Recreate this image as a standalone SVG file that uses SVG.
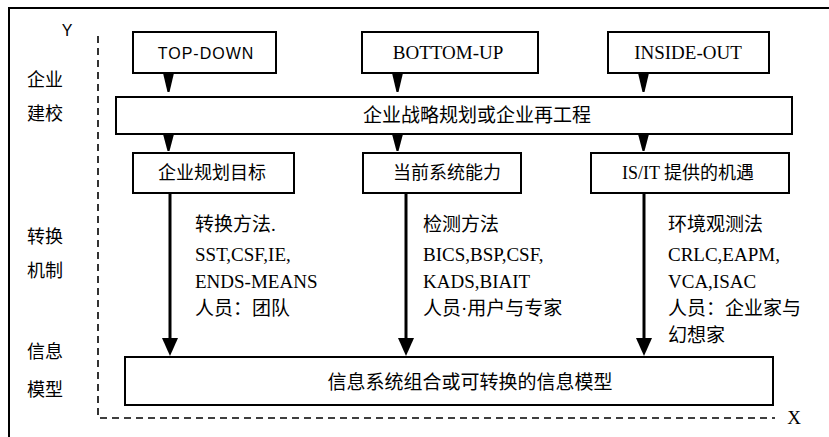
<svg xmlns="http://www.w3.org/2000/svg" width="829" height="437" viewBox="0 0 829 437">
<defs>
<style>
.box{fill:#fff;stroke:#000;stroke-width:2}
.cjk{font-family:"Liberation Serif","Noto Sans CJK SC",serif;font-size:18px;fill:#000}
.lat{font-family:"Liberation Serif","Noto Sans CJK SC",serif;font-size:19px;fill:#000}
.sans{font-family:"Liberation Sans",sans-serif;font-size:16px;fill:#000;letter-spacing:1px}
.axis{fill:none;stroke:#000;stroke-width:1.6;stroke-dasharray:7,5}
.thick{stroke:#000;stroke-width:3;fill:none}
.head{fill:#000}
</style>
</defs>
<rect width="829" height="437" fill="#fff"/>
<g id="frame">
<path d="M9,437 V8 H829" fill="none" stroke="#000" stroke-width="2"/>
</g>
<g id="axes">
<path class="axis" d="M98,36 V418 H775"/>
<text x="67" y="36" class="sans" text-anchor="middle" style="letter-spacing:0">Y</text>
<text x="794" y="424" class="lat" text-anchor="middle">X</text>
</g>
<g id="row-labels">
<text x="27" y="86" class="cjk">企业</text>
<text x="27" y="120" class="cjk">建校</text>
<text x="27" y="243" class="cjk">转换</text>
<text x="27" y="277" class="cjk">机制</text>
<text x="27" y="358" class="cjk">信息</text>
<text x="27" y="396" class="cjk">模型</text>
</g>
<g id="connectors">
<path class="head" d="M163,73 H174 L169.5,92 H167.5 Z"/>
<path class="head" d="M392,73 H403 L398.5,92 H396.5 Z"/>
<path class="head" d="M638,73 H649 L644.5,92 H642.5 Z"/>
<path class="head" d="M163,134 H174 L169.5,151 H167.5 Z"/>
<path class="head" d="M392,134 H403 L398.5,151 H396.5 Z"/>
<path class="head" d="M638,134 H649 L644.5,151 H642.5 Z"/>
<line class="thick" x1="170" y1="193" x2="170" y2="340"/>
<path class="head" d="M162,338 H178 L170,356 Z"/>
<line class="thick" x1="406" y1="193" x2="406" y2="340"/>
<path class="head" d="M398,338 H414 L406,356 Z"/>
<line class="thick" x1="644" y1="193" x2="644" y2="340"/>
<path class="head" d="M636,338 H652 L644,356 Z"/>
</g>
<g id="top-down">
<rect class="box" x="133" y="32" width="143" height="41"/>
<text x="206" y="59" class="sans" text-anchor="middle">TOP-DOWN</text>
</g>
<g id="bottom-up">
<rect class="box" x="362" y="32" width="176" height="41"/>
<text x="448" y="59" class="lat" text-anchor="middle">BOTTOM-UP</text>
</g>
<g id="inside-out">
<rect class="box" x="608" y="32" width="161" height="41"/>
<text x="688" y="59" class="lat" text-anchor="middle">INSIDE-OUT</text>
</g>
<g id="strategy">
<rect class="box" x="116" y="97" width="676" height="37"/>
<text x="477" y="122" class="cjk" text-anchor="middle" style="font-size:19px">企业战略规划或企业再工程</text>
</g>
<g id="goal">
<rect class="box" x="133" y="153" width="161" height="40"/>
<text x="212" y="179" class="cjk" text-anchor="middle">企业规划目标</text>
</g>
<g id="capability">
<rect class="box" x="363" y="153" width="158" height="40"/>
<text x="447" y="179" class="cjk" text-anchor="middle">当前系统能力</text>
</g>
<g id="opportunity">
<rect class="box" x="591" y="153" width="198" height="40"/>
<text x="688" y="179" class="cjk" text-anchor="middle">IS/IT 提供的机遇</text>
</g>
<g id="method-1">
<text class="lat" x="195" y="231">转换方法.</text>
<text class="lat" x="195" y="261">SST,CSF,IE,</text>
<text class="lat" x="195" y="288">ENDS-MEANS</text>
<text class="lat" x="195" y="315">人员：团队</text>
</g>
<g id="method-2">
<text class="lat" x="423" y="231">检测方法</text>
<text class="lat" x="423" y="261">BICS,BSP,CSF,</text>
<text class="lat" x="423" y="288">KADS,BIAIT</text>
<text class="lat" x="423" y="315">人员·用户与专家</text>
</g>
<g id="method-3">
<text class="lat" x="668" y="231">环境观测法</text>
<text class="lat" x="668" y="261">CRLC,EAPM,</text>
<text class="lat" x="668" y="288">VCA,ISAC</text>
<text class="lat" x="668" y="315">人员：企业家与</text>
<text class="lat" x="668" y="342">幻想家</text>
</g>
<g id="info-model">
<rect class="box" x="125" y="357" width="648" height="48"/>
<text x="470" y="389" class="cjk" text-anchor="middle" style="font-size:19px">信息系统组合或可转换的信息模型</text>
</g>
</svg>
